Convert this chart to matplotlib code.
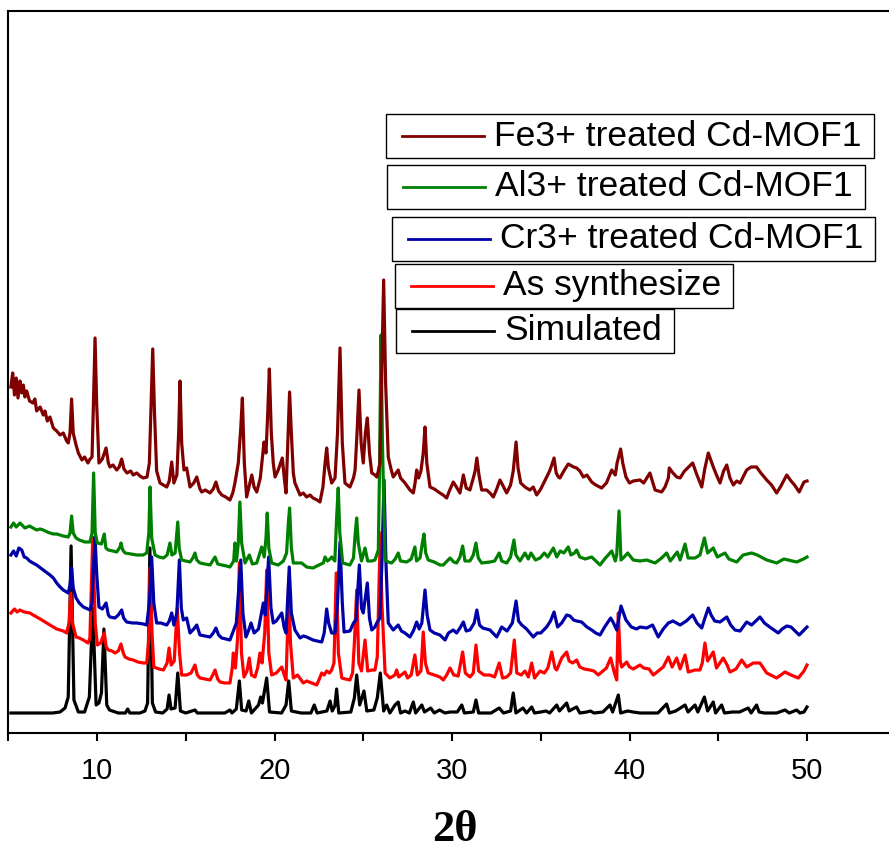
import numpy as np
import matplotlib
matplotlib.use('Agg')
import matplotlib.pyplot as plt
from matplotlib.patches import Rectangle
from matplotlib.lines import Line2D

# (2theta, intensity a.u.), vertical offsets included
fe_pts = [
    (5.15, 346), (5.25, 360), (5.35, 338), (5.45, 355), (5.55, 335), (5.66, 352), (5.76, 340), (5.85, 348),
    (5.94, 336), (6.04, 342), (6.20, 332), (6.39, 330), (6.50, 334), (6.60, 322), (6.80, 326), (6.97, 318),
    (7.07, 322), (7.20, 312), (7.35, 316), (7.54, 305), (7.73, 302), (7.92, 298), (8.10, 300), (8.29, 292),
    (8.38, 290), (8.48, 300), (8.57, 334), (8.66, 300), (8.82, 288), (8.95, 280), (9.15, 273), (9.30, 276),
    (9.49, 270), (9.61, 274), (9.72, 276), (9.80, 330), (9.89, 395), (9.98, 330), (10.11, 270), (10.30, 274),
    (10.51, 285), (10.64, 270), (10.73, 266), (10.90, 268), (11.11, 263), (11.25, 266), (11.39, 274), (11.52, 264),
    (11.69, 260), (11.90, 262), (12.04, 258), (12.24, 260), (12.42, 257), (12.61, 255), (12.82, 256), (12.95, 270),
    (13.05, 330), (13.14, 384), (13.24, 320), (13.36, 262), (13.55, 250), (13.74, 248), (13.93, 246), (14.07, 252),
    (14.21, 271), (14.33, 250), (14.50, 258), (14.60, 300), (14.68, 352), (14.77, 290), (14.90, 263), (15.05, 265),
    (15.24, 246), (15.45, 250), (15.62, 256), (15.80, 244), (15.90, 241), (16.10, 243), (16.37, 240), (16.55, 244),
    (16.70, 251), (16.85, 242), (17.03, 238), (17.25, 236), (17.49, 233), (17.65, 240), (17.77, 250), (17.96, 270),
    (18.10, 305), (18.19, 335), (18.30, 270), (18.43, 236), (18.55, 245), (18.72, 258), (18.85, 246), (19.00, 241),
    (19.20, 255), (19.41, 291), (19.52, 280), (19.62, 320), (19.71, 364), (19.82, 300), (19.93, 270), (20.03, 256),
    (20.21, 263), (20.44, 275), (20.55, 255), (20.65, 240), (20.75, 290), (20.85, 341), (20.95, 300), (21.06, 260),
    (21.15, 250), (21.44, 238), (21.62, 240), (21.81, 236), (22.00, 238), (22.17, 235), (22.40, 233), (22.56, 231),
    (22.73, 246), (22.85, 270), (22.94, 285), (23.04, 265), (23.22, 250), (23.41, 255), (23.55, 300), (23.69, 385),
    (23.82, 290), (23.97, 250), (24.10, 248), (24.25, 246), (24.45, 255), (24.54, 263), (24.65, 300), (24.76, 343),
    (24.88, 290), (25.00, 270), (25.12, 300), (25.23, 315), (25.35, 280), (25.48, 260), (25.66, 258), (25.76, 256),
    (25.85, 262), (25.94, 270), (26.04, 360), (26.15, 453), (26.26, 350), (26.41, 276), (26.55, 265), (26.69, 256),
    (26.85, 260), (26.97, 263), (27.10, 255), (27.35, 250), (27.63, 243), (27.82, 240), (27.92, 250), (28.01, 263),
    (28.12, 255), (28.25, 262), (28.38, 280), (28.48, 306), (28.58, 270), (28.76, 246), (29.00, 244), (29.32, 240),
    (29.50, 238), (29.70, 235), (29.85, 242), (30.07, 251), (30.25, 246), (30.45, 240), (30.64, 258), (30.80, 245),
    (31.01, 243), (31.20, 255), (31.30, 262), (31.40, 275), (31.52, 258), (31.67, 243), (31.95, 243), (32.14, 240),
    (32.33, 236), (32.52, 244), (32.70, 253), (32.85, 248), (33.08, 240), (33.30, 248), (33.45, 262), (33.61, 291),
    (33.72, 265), (33.87, 250), (34.11, 246), (34.39, 243), (34.58, 246), (34.77, 238), (35.00, 244), (35.33, 256),
    (35.50, 262), (35.62, 268), (35.75, 275), (35.87, 260), (35.99, 256), (36.08, 255), (36.30, 262), (36.55, 269),
    (36.65, 268), (36.85, 266), (37.02, 265), (37.20, 262), (37.40, 256), (37.60, 258), (37.87, 251), (38.10, 248),
    (38.43, 245), (38.70, 250), (39.00, 263), (39.20, 258), (39.30, 270), (39.50, 284), (39.62, 270), (39.80, 256),
    (40.00, 250), (40.21, 252), (40.59, 253), (40.80, 250), (41.15, 260), (41.44, 243), (41.81, 241), (42.00, 246),
    (42.19, 255), (42.24, 265), (42.45, 260), (42.66, 256), (42.85, 255), (43.10, 262), (43.56, 270), (43.80, 258),
    (44.07, 246), (44.25, 265), (44.44, 280), (44.60, 272), (44.72, 266), (44.90, 258), (45.10, 250), (45.30, 262),
    (45.48, 268), (45.66, 255), (45.85, 248), (46.04, 252), (46.23, 250), (46.40, 256), (46.60, 263), (46.85, 266),
    (47.16, 266), (47.40, 260), (47.73, 253), (48.00, 248), (48.29, 240), (48.50, 246), (48.86, 258), (49.10, 252),
    (49.30, 248), (49.56, 241), (49.83, 251), (50.00, 252),
]

al_pts = [
    (5.15, 206), (5.30, 210), (5.45, 206), (5.66, 210), (5.94, 205), (6.20, 207), (6.39, 205), (6.60, 203),
    (6.80, 204), (6.97, 203), (7.20, 201), (7.35, 200), (7.54, 199), (7.73, 199), (7.92, 198), (8.10, 197),
    (8.38, 196), (8.48, 200), (8.57, 217), (8.66, 200), (8.82, 195), (9.00, 193), (9.32, 191), (9.60, 191),
    (9.72, 200), (9.81, 260), (9.90, 200), (10.02, 190), (10.25, 189), (10.41, 199), (10.50, 185), (10.64, 183),
    (10.90, 182), (11.11, 181), (11.30, 186), (11.35, 190), (11.45, 183), (11.58, 180), (11.90, 179), (12.24, 178),
    (12.60, 178), (12.80, 180), (12.92, 200), (12.99, 246), (13.08, 195), (13.27, 178), (13.50, 176), (13.74, 175),
    (13.95, 178), (14.11, 190), (14.22, 178), (14.40, 180), (14.47, 195), (14.55, 211), (14.63, 185), (14.77, 173),
    (15.00, 172), (15.24, 171), (15.40, 175), (15.52, 180), (15.62, 173), (15.80, 170), (16.10, 169), (16.37, 168),
    (16.65, 176), (16.80, 169), (17.03, 168), (17.30, 167), (17.49, 166), (17.70, 172), (17.77, 190), (17.86, 172),
    (17.96, 190), (18.05, 231), (18.15, 190), (18.34, 170), (18.58, 178), (18.75, 169), (19.00, 170), (19.28, 186),
    (19.42, 176), (19.52, 195), (19.59, 220), (19.68, 185), (19.84, 170), (20.21, 168), (20.50, 172), (20.68, 180),
    (20.78, 210), (20.85, 225), (20.95, 185), (21.06, 170), (21.53, 170), (21.81, 166), (22.17, 165), (22.50, 168),
    (22.75, 170), (22.85, 176), (22.98, 172), (23.13, 174), (23.22, 176), (23.40, 172), (23.50, 215), (23.59, 245),
    (23.68, 200), (23.84, 170), (24.25, 168), (24.45, 175), (24.55, 200), (24.63, 215), (24.72, 190), (24.90, 172),
    (25.10, 185), (25.25, 172), (25.48, 172), (25.66, 173), (25.85, 183), (25.93, 280), (26.00, 398), (26.08, 290),
    (26.23, 173), (26.40, 171), (26.60, 170), (26.80, 174), (26.97, 180), (27.10, 172), (27.45, 171), (27.70, 174),
    (27.91, 186), (28.00, 172), (28.20, 175), (28.33, 190), (28.42, 199), (28.52, 180), (28.66, 173), (29.00, 171),
    (29.32, 168), (29.51, 168), (29.89, 175), (30.10, 171), (30.26, 170), (30.45, 176), (30.60, 187), (30.73, 172),
    (31.01, 172), (31.20, 178), (31.35, 190), (31.48, 175), (31.67, 170), (32.14, 171), (32.40, 172), (32.66, 180),
    (32.80, 172), (33.08, 170), (33.30, 176), (33.49, 193), (33.60, 178), (33.83, 172), (34.11, 180), (34.30, 174),
    (34.45, 180), (34.70, 173), (34.96, 175), (35.20, 180), (35.40, 176), (35.71, 185), (35.90, 176), (36.10, 182),
    (36.30, 180), (36.55, 186), (36.70, 178), (36.90, 180), (37.02, 183), (37.20, 176), (37.50, 174), (37.87, 176),
    (38.34, 168), (38.60, 174), (39.00, 182), (39.20, 172), (39.28, 178), (39.41, 222), (39.52, 173), (39.70, 176),
    (39.90, 180), (40.21, 173), (40.59, 172), (40.97, 173), (41.44, 170), (41.81, 175), (42.09, 180), (42.30, 172),
    (42.69, 181), (42.85, 173), (43.13, 189), (43.30, 175), (43.69, 175), (43.97, 178), (44.22, 195), (44.40, 180),
    (44.72, 185), (44.95, 176), (45.38, 180), (45.60, 174), (46.04, 171), (46.40, 178), (46.88, 180), (47.20, 178),
    (47.73, 173), (48.29, 170), (48.70, 174), (49.42, 171), (49.80, 174), (50.00, 176),
]

cr_pts = [
    (5.15, 178), (5.30, 182), (5.45, 177), (5.60, 185), (5.76, 183), (5.90, 176), (6.04, 175), (6.20, 172),
    (6.39, 170), (6.60, 168), (6.97, 163), (7.20, 160), (7.35, 158), (7.54, 155), (7.73, 150), (7.92, 146),
    (8.10, 143), (8.38, 140), (8.48, 148), (8.57, 165), (8.66, 145), (8.82, 135), (9.00, 130), (9.23, 126),
    (9.61, 123), (9.72, 130), (9.80, 165), (9.89, 196), (9.98, 160), (10.11, 126), (10.30, 124), (10.51, 130),
    (10.64, 118), (10.73, 116), (11.01, 115), (11.20, 118), (11.39, 123), (11.50, 115), (11.67, 111), (12.00, 110),
    (12.24, 110), (12.61, 109), (12.80, 108), (12.95, 130), (13.08, 176), (13.20, 130), (13.36, 110), (13.60, 110),
    (13.93, 108), (14.07, 112), (14.21, 120), (14.33, 108), (14.50, 120), (14.64, 173), (14.75, 125), (14.86, 113),
    (15.05, 115), (15.24, 100), (15.45, 104), (15.62, 108), (15.80, 98), (16.10, 97), (16.37, 96), (16.55, 100),
    (16.70, 105), (16.85, 98), (17.03, 95), (17.25, 94), (17.49, 93), (17.70, 103), (17.85, 110), (18.10, 173),
    (18.22, 120), (18.39, 96), (18.55, 103), (18.68, 110), (18.85, 100), (19.10, 104), (19.37, 130), (19.48, 118),
    (19.67, 176), (19.80, 125), (19.93, 110), (20.10, 112), (20.41, 120), (20.55, 105), (20.65, 100), (20.83, 166),
    (20.95, 120), (21.15, 103), (21.44, 95), (21.62, 97), (21.81, 96), (22.17, 93), (22.40, 92), (22.66, 91),
    (22.80, 100), (22.94, 124), (23.05, 110), (23.22, 100), (23.41, 100), (23.55, 130), (23.69, 191), (23.82, 130),
    (23.92, 101), (24.25, 102), (24.45, 110), (24.59, 113), (24.78, 168), (24.90, 125), (25.00, 120), (25.23, 150),
    (25.35, 115), (25.48, 103), (25.66, 106), (25.76, 110), (25.94, 115), (26.05, 170), (26.17, 253), (26.28, 170),
    (26.41, 110), (26.69, 103), (26.97, 108), (27.15, 102), (27.35, 100), (27.63, 96), (27.82, 102), (28.01, 111),
    (28.15, 104), (28.30, 110), (28.48, 143), (28.60, 118), (28.76, 103), (29.00, 100), (29.32, 98), (29.61, 93),
    (29.80, 100), (30.07, 103), (30.26, 100), (30.45, 105), (30.64, 111), (30.80, 102), (31.01, 103), (31.25, 110),
    (31.40, 123), (31.55, 108), (31.73, 105), (32.14, 103), (32.52, 96), (32.80, 106), (33.10, 102), (33.40, 110),
    (33.61, 132), (33.75, 112), (33.93, 108), (34.20, 104), (34.58, 96), (34.80, 100), (35.00, 100), (35.33, 106),
    (35.55, 112), (35.75, 121), (35.95, 106), (36.18, 110), (36.46, 118), (36.65, 117), (36.85, 113), (37.02, 112),
    (37.30, 111), (37.60, 106), (37.87, 103), (38.10, 100), (38.34, 98), (38.60, 106), (38.94, 115), (39.10, 110),
    (39.28, 103), (39.52, 127), (39.80, 113), (40.10, 106), (40.40, 104), (40.59, 106), (40.97, 105), (41.30, 108),
    (41.62, 96), (41.90, 104), (42.19, 110), (42.45, 112), (42.85, 108), (43.20, 112), (43.56, 118), (43.80, 110),
    (44.07, 105), (44.25, 115), (44.44, 125), (44.60, 118), (44.80, 112), (45.10, 111), (45.48, 116), (45.70, 108),
    (45.94, 103), (46.23, 102), (46.60, 111), (46.88, 108), (47.35, 116), (47.60, 110), (47.90, 106), (48.38, 100),
    (48.60, 104), (48.86, 107), (49.10, 106), (49.56, 98), (49.83, 103), (50.00, 106),
]

as_pts = [
    (5.15, 120), (5.35, 124), (5.50, 121), (5.66, 123), (5.90, 121), (6.22, 120), (6.40, 118), (6.60, 116),
    (6.80, 114), (7.07, 111), (7.35, 108), (7.54, 106), (7.73, 104), (7.92, 103), (8.10, 102), (8.29, 100),
    (8.42, 110), (8.52, 140), (8.62, 110), (8.82, 96), (9.00, 95), (9.23, 93), (9.50, 90), (9.60, 95),
    (9.76, 196), (9.90, 110), (10.02, 88), (10.20, 90), (10.41, 100), (10.52, 86), (10.64, 83), (10.85, 82),
    (11.01, 80), (11.20, 82), (11.35, 89), (11.48, 80), (11.58, 76), (11.80, 74), (12.04, 73), (12.30, 71),
    (12.61, 70), (12.80, 70), (12.90, 90), (12.99, 165), (13.10, 100), (13.20, 66), (13.50, 64), (13.74, 63),
    (13.95, 70), (14.06, 85), (14.18, 68), (14.35, 72), (14.52, 125), (14.65, 80), (14.77, 58), (15.05, 58),
    (15.30, 60), (15.52, 68), (15.65, 58), (15.80, 55), (16.10, 54), (16.37, 53), (16.52, 58), (16.65, 63),
    (16.80, 54), (16.93, 51), (17.20, 50), (17.49, 50), (17.62, 65), (17.68, 80), (17.80, 65), (17.92, 95),
    (18.02, 170), (18.14, 80), (18.28, 56), (18.45, 62), (18.58, 75), (18.70, 58), (18.90, 56), (19.05, 65),
    (19.18, 80), (19.30, 70), (19.45, 100), (19.56, 163), (19.68, 80), (19.84, 58), (20.10, 60), (20.41, 66),
    (20.55, 58), (20.65, 53), (20.75, 110), (20.80, 155), (20.90, 90), (21.06, 55), (21.30, 58), (21.62, 50),
    (21.81, 52), (22.10, 50), (22.38, 48), (22.55, 55), (22.66, 60), (22.80, 58), (22.94, 62), (23.10, 60),
    (23.22, 63), (23.35, 70), (23.48, 160), (23.60, 80), (23.79, 55), (24.00, 54), (24.25, 53), (24.40, 60),
    (24.50, 90), (24.63, 143), (24.75, 70), (24.90, 62), (25.10, 93), (25.25, 62), (25.48, 63), (25.66, 63),
    (25.79, 76), (25.88, 140), (25.96, 200), (26.05, 130), (26.23, 60), (26.50, 55), (26.79, 58), (26.88, 63),
    (27.00, 56), (27.35, 61), (27.50, 55), (27.70, 58), (27.91, 78), (28.05, 58), (28.25, 62), (28.38, 101),
    (28.50, 70), (28.66, 60), (29.00, 58), (29.32, 56), (29.51, 53), (29.70, 58), (29.89, 65), (30.10, 58),
    (30.35, 57), (30.60, 81), (30.75, 60), (31.01, 56), (31.20, 60), (31.35, 88), (31.50, 62), (31.80, 58),
    (32.14, 58), (32.40, 56), (32.66, 70), (32.85, 55), (33.08, 56), (33.30, 60), (33.51, 93), (33.65, 60),
    (33.90, 58), (34.11, 62), (34.30, 56), (34.49, 70), (34.65, 55), (34.96, 62), (35.20, 60), (35.40, 65),
    (35.62, 81), (35.80, 65), (35.90, 63), (36.18, 75), (36.46, 81), (36.60, 72), (36.80, 70), (37.02, 73),
    (37.20, 66), (37.45, 64), (37.77, 63), (38.00, 62), (38.24, 58), (38.50, 62), (38.70, 65), (38.94, 75),
    (39.15, 60), (39.28, 53), (39.37, 120), (39.48, 72), (39.56, 66), (39.84, 71), (40.00, 66), (40.21, 64),
    (40.59, 68), (40.80, 65), (41.10, 64), (41.34, 58), (41.62, 62), (41.90, 66), (42.19, 76), (42.40, 66),
    (42.66, 75), (42.85, 64), (43.13, 78), (43.22, 70), (43.31, 61), (43.69, 63), (43.97, 63), (44.10, 70),
    (44.25, 90), (44.40, 72), (44.72, 81), (44.90, 65), (45.28, 75), (45.50, 68), (45.66, 61), (46.00, 64),
    (46.32, 73), (46.60, 66), (46.97, 70), (47.35, 70), (47.73, 60), (48.29, 55), (48.76, 61), (49.10, 58),
    (49.51, 55), (49.83, 62), (50.00, 68),
]

sim_pts = [
    (5.15, 20), (7.50, 20), (7.92, 21), (8.20, 25), (8.38, 36), (8.54, 187), (8.70, 33), (8.95, 21),
    (9.30, 21), (9.57, 36), (9.76, 125), (9.95, 28), (10.11, 30), (10.25, 40), (10.39, 104), (10.55, 28),
    (10.70, 23), (11.20, 20), (11.60, 20), (11.73, 24), (11.85, 20), (12.42, 20), (12.70, 22), (12.85, 30),
    (12.98, 185), (13.12, 30), (13.30, 21), (13.70, 20), (13.95, 24), (14.06, 38), (14.17, 24), (14.40, 25),
    (14.55, 60), (14.70, 22), (15.00, 20), (15.52, 23), (15.65, 20), (17.20, 20), (17.49, 23), (17.60, 20),
    (17.85, 24), (18.02, 52), (18.15, 23), (18.40, 22), (18.55, 32), (18.70, 20), (19.10, 28), (19.22, 36),
    (19.32, 30), (19.56, 55), (19.72, 21), (20.40, 20), (20.65, 28), (20.80, 52), (20.95, 22), (21.50, 20),
    (22.05, 20), (22.24, 28), (22.40, 20), (22.95, 22), (23.13, 32), (23.25, 22), (23.40, 27), (23.50, 44),
    (23.62, 20), (24.30, 21), (24.50, 35), (24.63, 58), (24.80, 28), (25.04, 42), (25.20, 22), (25.60, 23),
    (25.79, 35), (25.96, 60), (26.15, 22), (26.32, 28), (26.50, 20), (26.79, 28), (26.97, 31), (27.10, 20),
    (27.35, 22), (27.60, 20), (27.82, 31), (27.95, 20), (28.30, 28), (28.45, 21), (28.80, 25), (29.00, 20),
    (29.30, 23), (29.60, 20), (29.90, 21), (30.30, 21), (30.55, 28), (30.70, 20), (31.20, 21), (31.35, 33),
    (31.50, 20), (32.20, 20), (32.66, 25), (32.90, 20), (33.30, 22), (33.45, 40), (33.60, 20), (34.00, 25),
    (34.20, 20), (34.49, 26), (34.65, 20), (35.00, 21), (35.30, 22), (35.50, 20), (35.90, 28), (36.05, 22),
    (36.46, 30), (36.60, 22), (36.80, 24), (37.02, 26), (37.20, 20), (37.60, 21), (37.80, 22), (38.00, 20),
    (38.50, 21), (38.90, 28), (39.05, 21), (39.37, 38), (39.50, 20), (39.90, 22), (40.20, 21), (40.59, 20),
    (41.00, 20), (41.60, 20), (42.09, 29), (42.25, 20), (42.60, 22), (43.13, 28), (43.30, 21), (43.69, 28),
    (43.85, 21), (44.22, 36), (44.40, 22), (44.72, 31), (44.85, 20), (45.19, 28), (45.35, 20), (45.80, 21),
    (46.20, 21), (46.69, 25), (46.85, 20), (47.16, 28), (47.30, 21), (47.60, 20), (48.29, 20), (48.76, 23),
    (49.00, 20), (49.42, 23), (49.60, 20), (49.83, 21), (50.00, 26),
]

labels = ['Fe3+ treated Cd-MOF1', 'Al3+ treated Cd-MOF1', 'Cr3+ treated Cd-MOF1', 'As synthesize', 'Simulated']
colors = ['#800000', '#008000', '#0000a8', '#ff0000', '#000000']
series = [fe_pts, al_pts, cr_pts, as_pts, sim_pts]

W, H = 889, 850
fig = plt.figure(figsize=(W / 100, H / 100), dpi=100)
ax = fig.add_axes([8.25 / W, 117 / H, 887.5 / W, 722 / H])

# simulated at the back, Fe on top
for pts, c in zip(series[::-1], colors[::-1]):
    xy = np.array(pts)
    ax.plot(xy[:, 0], xy[:, 1], color=c, lw=2.3, solid_joinstyle='round')

ax.set_xlim(5, 55)
ax.set_ylim(0, 722)
ax.set_xticks([10, 20, 30, 40, 50])
ax.set_xticks([5, 15, 25, 35, 45, 55], minor=True)
ax.set_yticks([])
ax.tick_params(axis='x', which='both', direction='out', length=6, width=1.5, pad=11)
for lab in ax.get_xticklabels():
    lab.set_fontfamily(['Liberation Sans Narrow', 'Liberation Sans'])
    lab.set_fontsize(21)
for sp in ax.spines.values():
    sp.set_linewidth(1.5)

fig.text(455 / W, 1 - 830 / H, '2θ', ha='center', va='center',
         fontfamily='Liberation Serif', fontweight='bold', fontsize=32)

# separate boxed legend entries, Origin style
boxes = [(386, 114), (387, 165), (392, 217), (395, 264), (396, 309)]
box_h = 44
renderer = fig.canvas.get_renderer()
for (left, top), lab, c in zip(boxes, labels, colors):
    yc = 1 - (top + box_h / 2) / H
    t = fig.text((left + 108) / W, yc, lab, ha='left', va='center',
                 fontfamily='Liberation Sans', fontsize=25.5, zorder=5)
    bb = t.get_window_extent(renderer)
    right = bb.x1 + 12
    fig.patches.append(Rectangle((left / W, 1 - (top + box_h) / H), (right - left) / W, box_h / H,
                                 transform=fig.transFigure, facecolor='white', edgecolor='black',
                                 lw=1.0, zorder=3))
    fig.lines.append(Line2D([(left + 16) / W, (left + 98) / W], [yc, yc], color=c, lw=2.0,
                            transform=fig.transFigure, zorder=4))

fig.savefig('out.png', dpi=100)
